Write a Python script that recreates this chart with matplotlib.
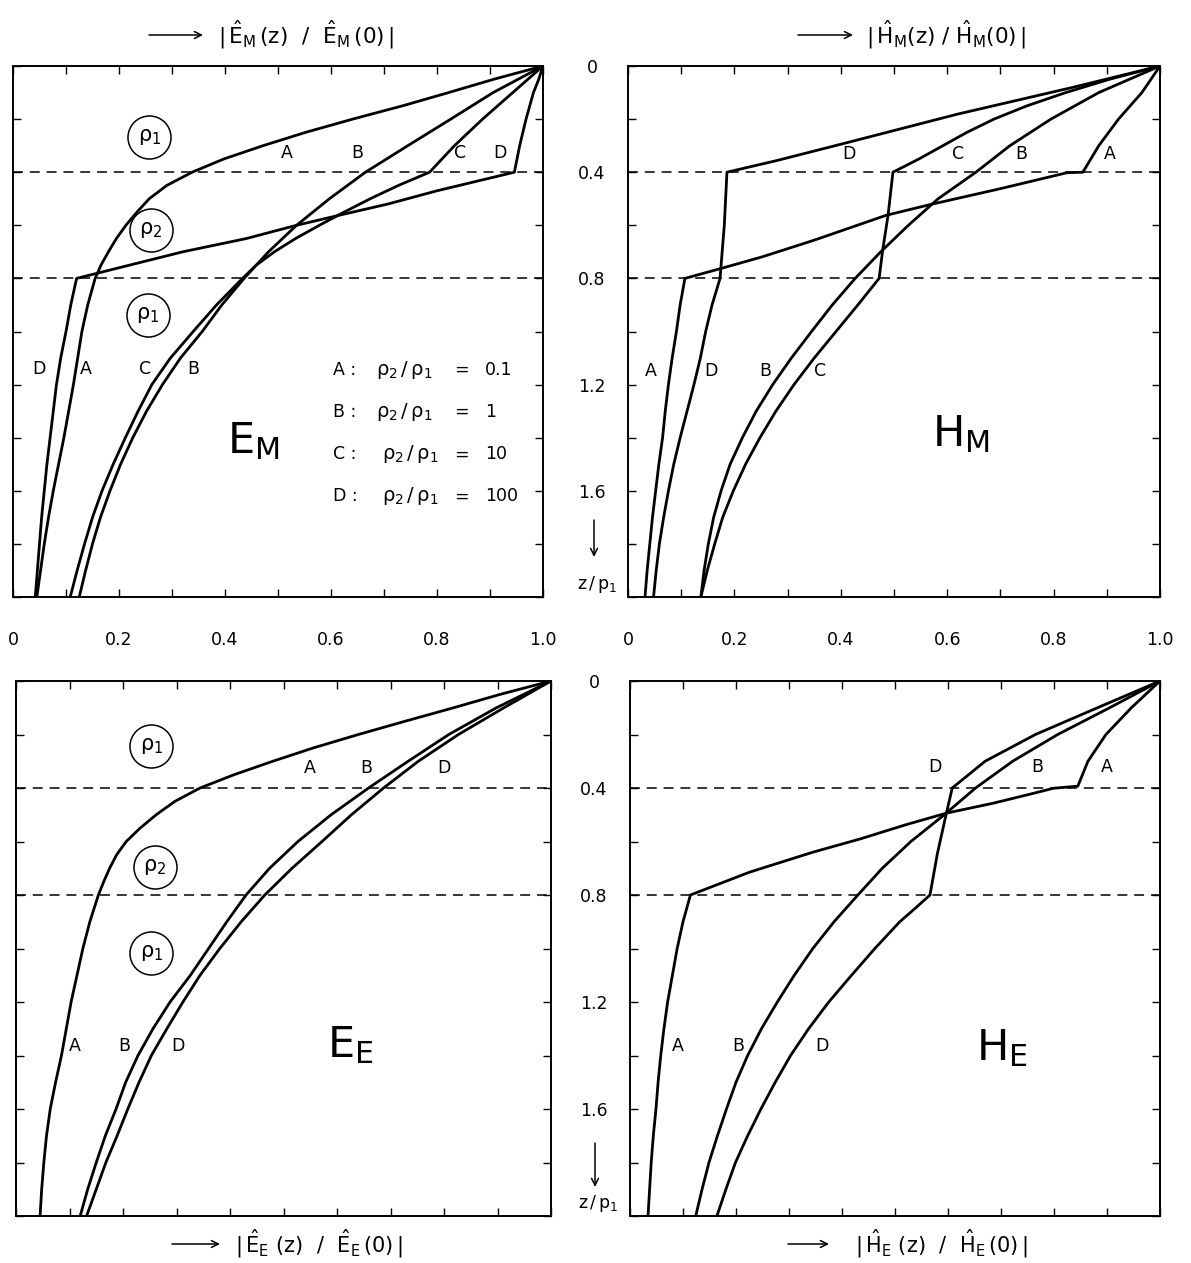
import matplotlib
matplotlib.use("Agg")
import matplotlib.pyplot as plt
from matplotlib.patches import FancyArrowPatch

plt.rcParams['font.family'] = ['DejaVu Sans']
plt.rcParams['mathtext.fontset'] = 'dejavusans'

W, H = 1191, 1263

# ---------------- depth z/p1 and normalised amplitude of each curve ----------------
# |E_M(z)/E_M(0)|
em_a_z = [0, 0.05, 0.10, 0.15, 0.20, 0.25, 0.30, 0.35, 0.40, 0.45, 0.50, 0.55, 0.60, 0.65, 0.70, 0.75, 0.80,
          0.90, 1.00, 1.10, 1.20, 1.30, 1.40, 1.50, 1.60, 1.70, 1.80, 1.90, 2.00]
em_a_v = [1.0, 0.907, 0.822, 0.735, 0.641, 0.552, 0.472, 0.398, 0.338, 0.290, 0.257, 0.234, 0.213, 0.195, 0.180, 0.166, 0.155,
          0.141, 0.130, 0.122, 0.114, 0.105, 0.096, 0.086, 0.076, 0.067, 0.059, 0.052, 0.045]
em_b_z = [0, 0.10, 0.20, 0.30, 0.40, 0.50, 0.60, 0.70, 0.80,
          0.90, 1.00, 1.10, 1.20, 1.30, 1.40, 1.50, 1.60, 1.70, 1.80, 1.90, 2.00]
em_b_v = [1.0, 0.906, 0.826, 0.745, 0.665, 0.597, 0.535, 0.482, 0.436,
          0.394, 0.357, 0.316, 0.282, 0.252, 0.226, 0.203, 0.183, 0.165, 0.150, 0.137, 0.125]
em_c_z = [0, 0.10, 0.20, 0.30, 0.40, 0.45, 0.50, 0.55, 0.60, 0.65, 0.70, 0.75, 0.80,
          0.90, 1.00, 1.10, 1.20, 1.30, 1.40, 1.50, 1.60, 1.70, 1.80, 1.90, 2.00]
em_c_v = [1.0, 0.943, 0.886, 0.833, 0.786, 0.727, 0.674, 0.625, 0.578, 0.533, 0.493, 0.459, 0.433,
          0.384, 0.340, 0.297, 0.262, 0.236, 0.212, 0.189, 0.168, 0.150, 0.135, 0.121, 0.108]
em_d_z = [0, 0.05, 0.10, 0.20, 0.30, 0.40, 0.47, 0.52, 0.56, 0.60, 0.65, 0.70, 0.73, 0.77, 0.80,
          0.90, 1.00, 1.10, 1.20, 1.30, 1.40, 1.50, 1.60, 1.70, 1.80, 1.90, 2.00]
em_d_v = [1.0, 0.992, 0.982, 0.968, 0.956, 0.946, 0.800, 0.707, 0.620, 0.535, 0.440, 0.320, 0.260, 0.180, 0.120,
          0.109, 0.100, 0.090, 0.082, 0.076, 0.070, 0.064, 0.059, 0.054, 0.050, 0.046, 0.042]

# |H_M(z)/H_M(0)|
hm_a_z = [0, 0.10, 0.20, 0.30, 0.40, 0.402, 0.4625, 0.521, 0.5625, 0.656, 0.719, 0.7625, 0.80,
          0.90, 1.00, 1.10, 1.20, 1.30, 1.40, 1.50, 1.60, 1.70, 1.80, 1.90, 2.00]
hm_a_v = [1.0, 0.966, 0.922, 0.885, 0.855, 0.825, 0.699, 0.570, 0.485, 0.350, 0.252, 0.175, 0.107,
          0.098, 0.091, 0.083, 0.076, 0.070, 0.065, 0.058, 0.052, 0.046, 0.041, 0.036, 0.032]
hm_b_z = [0, 0.10, 0.20, 0.30, 0.40, 0.50, 0.60, 0.70, 0.80,
          0.90, 1.00, 1.10, 1.20, 1.30, 1.40, 1.50, 1.60, 1.70, 1.80, 1.90, 2.00]
hm_b_v = [1.0, 0.885, 0.795, 0.718, 0.654, 0.583, 0.527, 0.475, 0.427,
          0.384, 0.345, 0.307, 0.272, 0.241, 0.215, 0.192, 0.175, 0.161, 0.151, 0.143, 0.137]
hm_c_z = [0, 0.05, 0.10, 0.15, 0.20, 0.25, 0.30, 0.35, 0.40, 0.56, 0.69, 0.80,
          0.90, 1.00, 1.10, 1.20, 1.30, 1.40, 1.50, 1.60, 1.70, 1.80, 1.90, 2.00]
hm_c_v = [1.0, 0.905, 0.823, 0.750, 0.688, 0.637, 0.592, 0.547, 0.498, 0.489, 0.479, 0.472,
          0.432, 0.391, 0.350, 0.312, 0.278, 0.248, 0.221, 0.198, 0.178, 0.163, 0.149, 0.137]
hm_d_z = [0, 0.081, 0.181, 0.2875, 0.356, 0.40, 0.60, 0.80,
          0.90, 1.00, 1.10, 1.20, 1.30, 1.40, 1.50, 1.60, 1.70, 1.80, 1.90, 2.00]
hm_d_v = [1.0, 0.835, 0.620, 0.414, 0.280, 0.186, 0.181, 0.173,
          0.158, 0.146, 0.136, 0.124, 0.111, 0.098, 0.086, 0.076, 0.067, 0.059, 0.053, 0.048]

# |E_E(z)/E_E(0)|
ee_a_z = [0, 0.05, 0.10, 0.15, 0.20, 0.25, 0.30, 0.35, 0.40, 0.45, 0.50, 0.55, 0.60, 0.65, 0.70, 0.75, 0.80,
          0.90, 1.00, 1.10, 1.20, 1.30, 1.40, 1.50, 1.60, 1.70, 1.80, 1.90, 2.00]
ee_a_v = [1.0, 0.905, 0.818, 0.728, 0.640, 0.556, 0.480, 0.408, 0.344, 0.297, 0.262, 0.232, 0.206, 0.188, 0.175, 0.164, 0.154,
          0.138, 0.125, 0.114, 0.103, 0.094, 0.085, 0.074, 0.064, 0.057, 0.052, 0.048, 0.045]
ee_b_z = [0, 0.10, 0.20, 0.30, 0.40, 0.50, 0.60, 0.70, 0.80,
          0.90, 1.00, 1.10, 1.20, 1.30, 1.40, 1.50, 1.60, 1.70, 1.80, 1.90, 2.00]
ee_b_v = [1.0, 0.898, 0.809, 0.733, 0.659, 0.589, 0.527, 0.474, 0.430,
          0.394, 0.360, 0.326, 0.288, 0.256, 0.228, 0.205, 0.187, 0.167, 0.150, 0.134, 0.120]
ee_d_z = [0, 0.10, 0.20, 0.30, 0.40, 0.50, 0.60, 0.70, 0.80,
          0.90, 1.00, 1.10, 1.20, 1.30, 1.40, 1.50, 1.60, 1.70, 1.80, 1.90, 2.00]
ee_d_v = [1.0, 0.912, 0.827, 0.752, 0.687, 0.627, 0.572, 0.516, 0.465,
          0.421, 0.381, 0.344, 0.312, 0.282, 0.253, 0.230, 0.209, 0.189, 0.168, 0.150, 0.132]

# |H_E(z)/H_E(0)|
he_a_z = [0, 0.10, 0.20, 0.30, 0.393, 0.401, 0.42, 0.457, 0.494, 0.537, 0.59, 0.64, 0.715, 0.80,
          0.90, 1.00, 1.10, 1.20, 1.30, 1.40, 1.50, 1.60, 1.70, 1.80, 1.90, 2.00]
he_a_v = [1.0, 0.946, 0.898, 0.864, 0.845, 0.799, 0.761, 0.685, 0.597, 0.521, 0.435, 0.345, 0.225, 0.114,
          0.100, 0.089, 0.080, 0.071, 0.064, 0.058, 0.053, 0.049, 0.044, 0.040, 0.037, 0.034]
he_b_z = [0, 0.10, 0.20, 0.30, 0.40, 0.50, 0.60, 0.70, 0.80,
          0.90, 1.00, 1.10, 1.20, 1.30, 1.40, 1.50, 1.60, 1.70, 1.80, 1.90, 2.00]
he_b_v = [1.0, 0.905, 0.807, 0.722, 0.652, 0.593, 0.530, 0.476, 0.430,
          0.385, 0.345, 0.310, 0.278, 0.248, 0.222, 0.200, 0.182, 0.165, 0.149, 0.136, 0.124]
he_d_z = [0, 0.10, 0.20, 0.30, 0.40, 0.494, 0.645, 0.80,
          0.85, 0.90, 1.00, 1.10, 1.20, 1.30, 1.40, 1.50, 1.60, 1.70, 1.80, 1.90, 2.00]
he_d_v = [1.0, 0.882, 0.765, 0.670, 0.608, 0.597, 0.580, 0.566,
          0.538, 0.509, 0.462, 0.418, 0.375, 0.337, 0.303, 0.274, 0.247, 0.222, 0.199, 0.181, 0.164]

# layer boundaries (z/p1)
interfaces = [0.4, 0.8]

# resistivity ratio legend
legend_keys = ['A :', 'B :', 'C :', 'D :']
legend_values = ['0.1', '1', '10', '100']

# tick labels
x_ticks = [0, 0.1, 0.2, 0.3, 0.4, 0.5, 0.6, 0.7, 0.8, 0.9, 1.0]
x_labels = ['0', '', '0.2', '', '0.4', '', '0.6', '', '0.8', '', '1.0']
y_ticks = [0, 0.2, 0.4, 0.6, 0.8, 1.0, 1.2, 1.4, 1.6, 1.8, 2.0]
y_labels = ['0', '', '0.4', '', '0.8', '', '1.2', '', '1.6', '', '']

fig = plt.figure(figsize=(W / 100, H / 100), dpi=100)


def rect(x0, x1, y0, y1):
    return [x0 / W, 1 - y1 / H, (x1 - x0) / W, (y1 - y0) / H]


def ftext(x, y, s, **kw):
    fig.text(x / W, 1 - y / H, s, **kw)


def farrow(x0, y0, x1, y1):
    fig.add_artist(FancyArrowPatch((x0 / W, 1 - y0 / H), (x1 / W, 1 - y1 / H),
                                   transform=fig.transFigure,
                                   arrowstyle='->,head_length=5,head_width=2.5',
                                   lw=1.1, color='k', shrinkA=0, shrinkB=0))


def make_panel(box, curves, xlab=False, ylab=False):
    ax = fig.add_axes(rect(*box))
    ax.set_xlim(0, 1)
    ax.set_ylim(2, 0)
    for z, v in curves:
        ax.plot(v, z, color='k', lw=2.0, solid_joinstyle='round', solid_capstyle='round')
    for zi in interfaces:
        ax.axhline(zi, color='k', lw=1.1, ls=(0, (6.5, 4.5)))
    for s in ax.spines.values():
        s.set_linewidth(1.4)
    ax.set_xticks(x_ticks)
    ax.set_yticks(y_ticks)
    ax.set_xticklabels(x_labels if xlab else [''] * len(x_ticks))
    ax.set_yticklabels(y_labels if ylab else [''] * len(y_ticks))
    ax.tick_params(which='both', direction='in', top=True, right=True,
                   length=6, width=1.0, labelsize=12.5)
    if xlab:
        ax.tick_params(axis='x', pad=31)
        for t in ax.get_xticklabels():
            t.set_va('center')
    if ylab:
        ax.tick_params(axis='y', pad=26)
        for t in ax.get_yticklabels():
            t.set_ha('center')
    return ax


def labels(ax, items):
    for s, v, z in items:
        ax.text(v, z, s, ha='center', va='center', fontsize=12.5)


def rho_circle(ax, v, z, idx):
    ax.plot([v], [z], 'o', ms=31, mfc='none', mec='k', mew=1.1)
    ax.text(v, z, r'$\mathrm{\rho_%d}$' % idx, ha='center', va='center', fontsize=15)


# ---------------- E_M ----------------
ax1 = make_panel((13, 543, 66, 597),
                 [(em_a_z, em_a_v), (em_b_z, em_b_v), (em_c_z, em_c_v), (em_d_z, em_d_v)],
                 xlab=True)
labels(ax1, [('A', 0.516, 0.329), ('B', 0.649, 0.329), ('C', 0.844, 0.329), ('D', 0.919, 0.329),
             ('D', 0.048, 1.143), ('A', 0.137, 1.143), ('C', 0.249, 1.143), ('B', 0.340, 1.143)])
rho_circle(ax1, 0.257, 0.266, 1)
rho_circle(ax1, 0.260, 0.616, 2)
rho_circle(ax1, 0.255, 0.936, 1)
ax1.text(0.404, 1.459, r'$\mathregular{E_M}$', fontsize=31, ha='left', va='baseline')
for i, (k, val) in enumerate(zip(legend_keys, legend_values)):
    zr = 1.145 + i * 0.1587
    ax1.text(0.604, zr, k, ha='left', va='center', fontsize=12.5)
    ax1.text(0.685 if i < 2 else 0.696, zr, r'$\mathrm{\rho_2\,/\,\rho_1}$', ha='left', va='center', fontsize=14)
    ax1.text(0.847, zr, '=', ha='center', va='center', fontsize=12.5)
    ax1.text(0.891, zr, val, ha='left', va='center', fontsize=12.5)

# ---------------- H_M ----------------
ax2 = make_panel((628, 1160, 66, 597),
                 [(hm_a_z, hm_a_v), (hm_b_z, hm_b_v), (hm_c_z, hm_c_v), (hm_d_z, hm_d_v)],
                 xlab=True, ylab=True)
labels(ax2, [('D', 0.416, 0.333), ('C', 0.620, 0.333), ('B', 0.740, 0.333), ('A', 0.905, 0.333),
             ('A', 0.043, 1.149), ('D', 0.155, 1.149), ('B', 0.258, 1.149), ('C', 0.361, 1.149)])
ax2.text(0.572, 1.432, r'$\mathregular{H_M}$', fontsize=31, ha='left', va='baseline')

# ---------------- E_E ----------------
ax3 = make_panel((16, 551, 681, 1216),
                 [(ee_a_z, ee_a_v), (ee_b_z, ee_b_v), (ee_d_z, ee_d_v)])
labels(ax3, [('A', 0.550, 0.325), ('B', 0.655, 0.325), ('D', 0.800, 0.325),
             ('A', 0.110, 1.365), ('B', 0.203, 1.365), ('D', 0.303, 1.365)])
rho_circle(ax3, 0.253, 0.244, 1)
rho_circle(ax3, 0.260, 0.694, 2)
rho_circle(ax3, 0.253, 1.018, 1)
ax3.text(0.581, 1.405, r'$\mathregular{E_E}$', fontsize=31, ha='left', va='baseline')

# ---------------- H_E ----------------
ax4 = make_panel((630, 1160, 681, 1216),
                 [(he_a_z, he_a_v), (he_b_z, he_b_v), (he_d_z, he_d_v)],
                 ylab=True)
labels(ax4, [('D', 0.575, 0.323), ('B', 0.769, 0.323), ('A', 0.899, 0.323),
             ('A', 0.091, 1.364), ('B', 0.204, 1.364), ('D', 0.362, 1.364)])
ax4.text(0.652, 1.418, r'$\mathregular{H_E}$', fontsize=31, ha='left', va='baseline')

# ---------------- axis titles ----------------
farrow(149, 35, 203, 35)
ftext(218, 35, r'$|\,\hat{\mathrm{E}}_{\mathrm{M}}\,(\mathrm{z})\ \ /\ \ \hat{\mathrm{E}}_{\mathrm{M}}\,(0)\,|$',
      ha='left', va='center', fontsize=15.5)
farrow(798, 35, 853, 35)
ftext(866, 35, r'$|\,\hat{\mathrm{H}}_{\mathrm{M}}(\mathrm{z})\ /\ \hat{\mathrm{H}}_{\mathrm{M}}(0)\,|$',
      ha='left', va='center', fontsize=15.5)
farrow(172, 1244, 220, 1244)
ftext(235, 1244, r'$|\,\hat{\mathrm{E}}_{\mathrm{E}}\ (\mathrm{z})\ \ /\ \ \hat{\mathrm{E}}_{\mathrm{E}}\,(0)\,|$',
      ha='left', va='center', fontsize=15)
farrow(788, 1244, 829, 1244)
ftext(855, 1244, r'$|\,\hat{\mathrm{H}}_{\mathrm{E}}\ (\mathrm{z})\ \ /\ \ \hat{\mathrm{H}}_{\mathrm{E}}\,(0)\,|$',
      ha='left', va='center', fontsize=15)

# depth axis markers
farrow(594, 520, 594, 557)
ftext(597, 584, r'$\mathrm{z\,/\,p_1}$', ha='center', va='center', fontsize=12.5)
farrow(595, 1143, 595, 1187)
ftext(598, 1203, r'$\mathrm{z\,/\,p_1}$', ha='center', va='center', fontsize=12.5)

fig.savefig('out.png', dpi=100)
